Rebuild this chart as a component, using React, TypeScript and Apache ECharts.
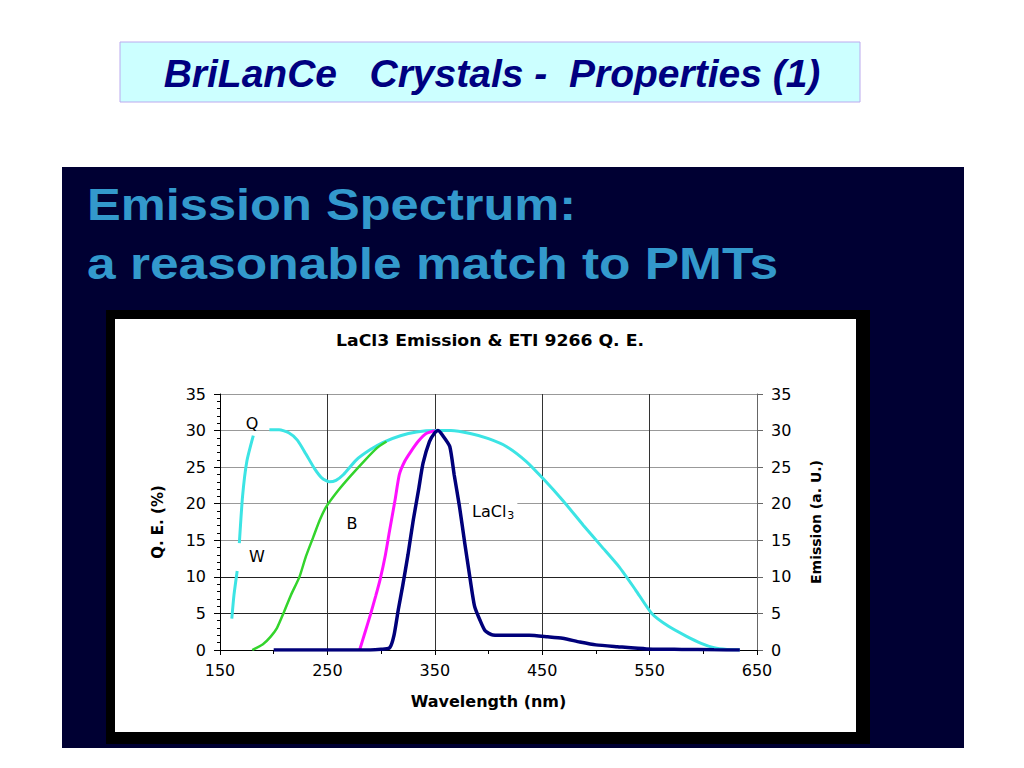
import React, { useEffect, useRef } from "react";
import * as echarts from "echarts";

// ---- Data ----
const xTicks = [150, 250, 350, 450, 550, 650];
const yTicks = [0, 5, 10, 15, 20, 25, 30, 35];

// Q.E. curve of the PMT, window "W" part (two short pieces) and main "Q" part
const qeW1Wave = [161, 163, 166];
const qeW1Val = [4.3, 7.5, 10.8];
const qeW2Wave = [168, 171, 175, 181];
const qeW2Val = [14.6, 21.0, 25.8, 29.3];
const qeWave = [196, 205, 214, 222, 230, 238, 245, 252, 258, 265, 277, 290, 302, 318, 333, 350, 365, 383, 400, 417, 435, 451, 470, 488, 505, 522, 537, 552, 568, 584, 598, 610, 622, 634];
const qeVal = [30.1, 30.1, 29.7, 28.7, 26.8, 24.8, 23.5, 23.0, 23.2, 24.0, 26.0, 27.4, 28.4, 29.3, 29.8, 30.0, 30.0, 29.6, 28.9, 27.8, 25.8, 23.4, 20.3, 17.1, 14.2, 11.3, 8.2, 5.0, 3.2, 1.9, 0.9, 0.3, 0.06, 0];

// "B" curve (green)
const bWave = [180, 190, 197, 203, 209, 216, 224, 230, 237, 243, 249, 260, 271, 284, 296, 305];
const bVal = [0, 0.8, 1.8, 3.0, 5.0, 7.5, 10.0, 12.8, 15.5, 17.8, 19.6, 21.8, 23.7, 25.8, 27.6, 28.5];

// magenta curve
const mWave = [280, 285, 290, 295, 299, 304, 308, 313, 317, 322, 328, 335, 342, 350];
const mVal = [0, 2.4, 4.8, 7.4, 9.6, 13.0, 16.4, 20.5, 24.0, 25.8, 27.2, 28.6, 29.6, 30.0];

// LaCl3 emission (navy)
const laWave = [200, 250, 290, 300, 308, 312, 316, 320, 325, 330, 335, 339, 345, 350, 353, 358, 364, 368, 373, 378, 383, 387, 392, 397, 404, 420, 438, 455, 469, 485, 500, 520, 547, 580, 610, 634];
const laVal = [0, 0, 0, 0.1, 0.3, 2.0, 5.5, 8.7, 13.0, 17.8, 22.0, 25.5, 28.5, 29.7, 30.0, 29.2, 27.8, 24.0, 19.6, 14.5, 9.6, 6.0, 4.1, 2.6, 2.05, 2.0, 2.0, 1.8, 1.6, 1.1, 0.7, 0.45, 0.15, 0.08, 0.03, 0];

const zip = (xs: number[], ys: number[]) => xs.map((x, i) => [x, ys[i]]);

const CH_FONT = "DejaVu Sans";
const SLIDE_FONT = "Liberation Sans";

export default function App() {
  const ref = useRef<HTMLDivElement>(null);
  useEffect(() => {
    if (!ref.current) return;
    const chart = echarts.init(ref.current, undefined, { renderer: "svg" });
    const cyan = "#3ce4e4";
    const lineSeries = (name: string, data: number[][], color: string, width: number) => ({
      name,
      type: "line",
      data,
      smooth: 0.2,
      showSymbol: false,
      symbol: "none",
      lineStyle: { color, width },
      itemStyle: { color },
      z: 3,
    });
    const centerText = (text: string, x: number, y: number, size: number) => ({
      type: "text",
      z: 10,
      x,
      y,
      style: {
        text,
        fontFamily: CH_FONT,
        fontSize: size,
        fill: "#000",
        align: "center",
        verticalAlign: "middle",
        textAlign: "center",
        textVerticalAlign: "middle",
      },
    });
    chart.setOption({
      animation: false,
      backgroundColor: "#ffffff",
      grid: { left: 220, right: 267, top: 394, bottom: 118, containLabel: false },
      xAxis: {
        type: "value",
        min: xTicks[0],
        max: xTicks[xTicks.length - 1],
        interval: 100,
        name: "Wavelength (nm)",
        nameLocation: "middle",
        nameGap: 43,
        nameTextStyle: { fontFamily: CH_FONT, fontSize: 16, fontWeight: "bold", color: "#000" },
        axisLine: { show: true, lineStyle: { color: "#000", width: 1 } },
        axisTick: { show: true, length: 5, lineStyle: { color: "#000" } },
        minorTick: { show: true, splitNumber: 2, length: 4, lineStyle: { color: "#000" } },
        axisLabel: { fontFamily: CH_FONT, fontSize: 16, color: "#000", margin: 12 },
        splitLine: { show: true, lineStyle: { color: "#333", width: 1 } },
      },
      yAxis: [
        {
          type: "value",
          min: yTicks[0],
          max: yTicks[yTicks.length - 1],
          interval: 5,
          position: "left",
          name: "Q. E. (%)",
          nameLocation: "middle",
          nameRotate: 90,
          nameGap: 55,
          nameTextStyle: { fontFamily: CH_FONT, fontSize: 15, fontWeight: "bold", color: "#000" },
          axisLine: { show: true, lineStyle: { color: "#000", width: 1 } },
          axisTick: { show: true, length: 6, lineStyle: { color: "#000" } },
          minorTick: { show: true, splitNumber: 5, length: 3, lineStyle: { color: "#000" } },
          axisLabel: { fontFamily: CH_FONT, fontSize: 16, color: "#000", margin: 14 },
          splitLine: {
            show: true,
            lineStyle: { color: ["#222", "#222", "#222", "#999", "#999", "#999", "#999", "#999"], width: 1 },
          },
        },
        {
          type: "value",
          min: yTicks[0],
          max: yTicks[yTicks.length - 1],
          interval: 5,
          position: "right",
          name: "Emission (a. U.)",
          nameLocation: "middle",
          nameRotate: 90,
          nameGap: 52,
          nameTextStyle: { fontFamily: CH_FONT, fontSize: 14, fontWeight: "bold", color: "#000" },
          axisLine: { show: true, lineStyle: { color: "#666", width: 1 } },
          axisTick: { show: true, length: 6, lineStyle: { color: "#666" } },
          axisLabel: { fontFamily: CH_FONT, fontSize: 16, color: "#000", margin: 14 },
          splitLine: { show: false },
        },
      ],
      series: [
        lineSeries("W1", zip(qeW1Wave, qeW1Val), cyan, 3),
        lineSeries("W2", zip(qeW2Wave, qeW2Val), cyan, 3),
        lineSeries("Q", zip(qeWave, qeVal), cyan, 3),
        lineSeries("B", zip(bWave, bVal), "#33d42c", 2.5),
        lineSeries("M", zip(mWave, mVal), "#ff10ff", 3),
        lineSeries("LaCl3", zip(laWave, laVal), "#00007a", 3.5),
      ],
      graphic: [
        // slide title box
        {
          type: "rect",
          z: -10,
          shape: { x: 120, y: 42, width: 740, height: 60 },
          style: { fill: "#ccffff", stroke: "#bbaaee", lineWidth: 1 },
        },
        {
          type: "text",
          z: 10,
          x: 492,
          y: 73,
          style: {
            text: "BriLanCe   Crystals -  Properties (1)",
            fontFamily: SLIDE_FONT,
            fontSize: 39,
            fontWeight: "bold",
            fontStyle: "italic",
            fill: "#000080",
            align: "center",
            verticalAlign: "middle",
            textAlign: "center",
            textVerticalAlign: "middle",
          },
        },
        // dark panel
        {
          type: "rect",
          z: -10,
          shape: { x: 62, y: 167, width: 902, height: 581 },
          style: { fill: "#000033" },
        },
        {
          type: "text",
          z: 10,
          x: 87,
          y: 205,
          scaleX: 1.15,
          style: {
            text: "Emission Spectrum:",
            fontFamily: SLIDE_FONT,
            fontSize: 44,
            fontWeight: "bold",
            fill: "#3399cc",
            align: "left",
            verticalAlign: "middle",
            textAlign: "left",
            textVerticalAlign: "middle",
          },
        },
        {
          type: "text",
          z: 10,
          x: 87,
          y: 264,
          scaleX: 1.17,
          style: {
            text: "a reasonable match to PMTs",
            fontFamily: SLIDE_FONT,
            fontSize: 44,
            fontWeight: "bold",
            fill: "#3399cc",
            align: "left",
            verticalAlign: "middle",
            textAlign: "left",
            textVerticalAlign: "middle",
          },
        },
        // chart frame
        {
          type: "rect",
          z: -9,
          shape: { x: 106, y: 310, width: 764, height: 434 },
          style: { fill: "#000000" },
        },
        {
          type: "rect",
          z: -8,
          shape: { x: 115, y: 319, width: 741, height: 413 },
          style: { fill: "#ffffff" },
        },
        {
          type: "text",
          z: 10,
          x: 490,
          y: 341,
          scaleX: 1.15,
          style: {
            text: "LaCl3 Emission & ETI 9266 Q. E.",
            fontFamily: CH_FONT,
            fontSize: 15,
            fontWeight: "bold",
            fill: "#000",
            align: "center",
            verticalAlign: "middle",
            textAlign: "center",
            textVerticalAlign: "middle",
          },
        },
        // curve labels
        centerText("Q", 252, 423, 16),
        centerText("W", 257, 556, 16),
        centerText("B", 352, 523, 16),
        {
          type: "text",
          z: 10,
          x: 469,
          y: 511,
          style: {
            text: "{m|LaCl}{s|3}",
            rich: {
              m: { fontFamily: CH_FONT, fontSize: 16, fill: "#000", color: "#000" },
              s: { fontFamily: CH_FONT, fontSize: 11, fill: "#000", color: "#000", padding: [8, 0, 0, 1] },
            },
            backgroundColor: "#fff",
            padding: [2, 3, 2, 3],
            align: "left",
            verticalAlign: "middle",
            textAlign: "left",
            textVerticalAlign: "middle",
          },
        },
      ],
    });
    return () => chart.dispose();
  }, []);
  return (
    <div
      ref={ref}
      style={{ position: "absolute", left: 0, top: 0, width: 1024, height: 768 }}
    />
  );
}
